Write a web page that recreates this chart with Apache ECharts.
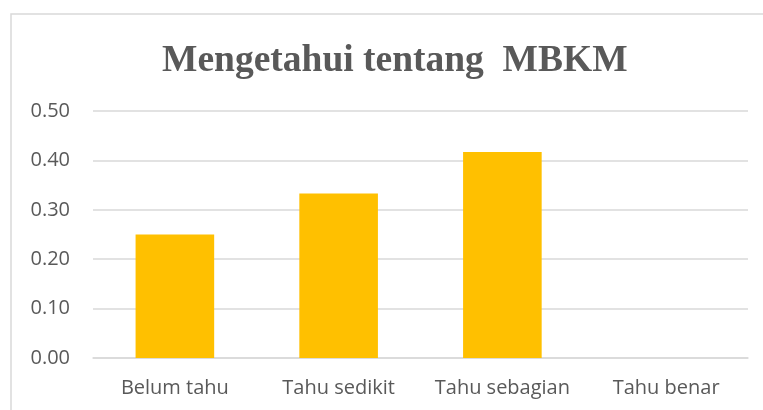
<!DOCTYPE html>
<html>
<head>
<meta charset="utf-8">
<script src="https://cdn.jsdelivr.net/npm/echarts@6/dist/echarts.min.js"></script>
<style>
html,body{margin:0;padding:0;background:#fff;}
#chart{width:763px;height:410px;}
</style>
</head>
<body>
<div id="chart"></div>
<script>
const titleText = 'Mengetahui tentang  MBKM';
const categories = ['Belum tahu', 'Tahu sedikit', 'Tahu sebagian', 'Tahu benar'];
const values = [0.25, 0.333, 0.417, 0];
const yTicks = { min: 0, max: 0.5, interval: 0.1 };

const chart = echarts.init(document.getElementById('chart'));
chart.setOption({
  backgroundColor: '#fff',
  animation: false,
  graphic: [{
    type: 'rect',
    shape: { x: 11, y: 14, width: 800, height: 450 },
    style: { fill: 'none', stroke: '#d9d9d9', lineWidth: 1.5 },
    silent: true
  }],
  title: {
    text: titleText,
    left: 162,
    top: 42,
    padding: 0,
    textStyle: {
      fontFamily: 'Liberation Serif',
      fontWeight: 'bold',
      fontSize: 37.5,
      color: '#595959'
    }
  },
  grid: { left: 93, right: 15, top: 111, bottom: 52 },
  xAxis: {
    type: 'category',
    data: categories,
    axisLine: { show: true, lineStyle: { color: '#d9d9d9', width: 1.5 } },
    axisTick: { show: false },
    axisLabel: { interval: 0, color: '#595959', fontFamily: 'Open Sans', fontSize: 20, margin: 20 }
  },
  yAxis: {
    type: 'value',
    min: yTicks.min,
    max: yTicks.max,
    interval: yTicks.interval,
    axisLine: { show: false },
    axisTick: { show: false },
    splitLine: { lineStyle: { color: '#d9d9d9', width: 1.5 } },
    axisLabel: {
      color: '#595959', fontFamily: 'Open Sans', fontSize: 20, margin: 23,
      formatter: v => v.toFixed(2)
    }
  },
  series: [{
    type: 'bar',
    data: values,
    barCategoryGap: '52%',
    itemStyle: { color: '#FFC000' }
  }]
});
</script>
</body>
</html>
